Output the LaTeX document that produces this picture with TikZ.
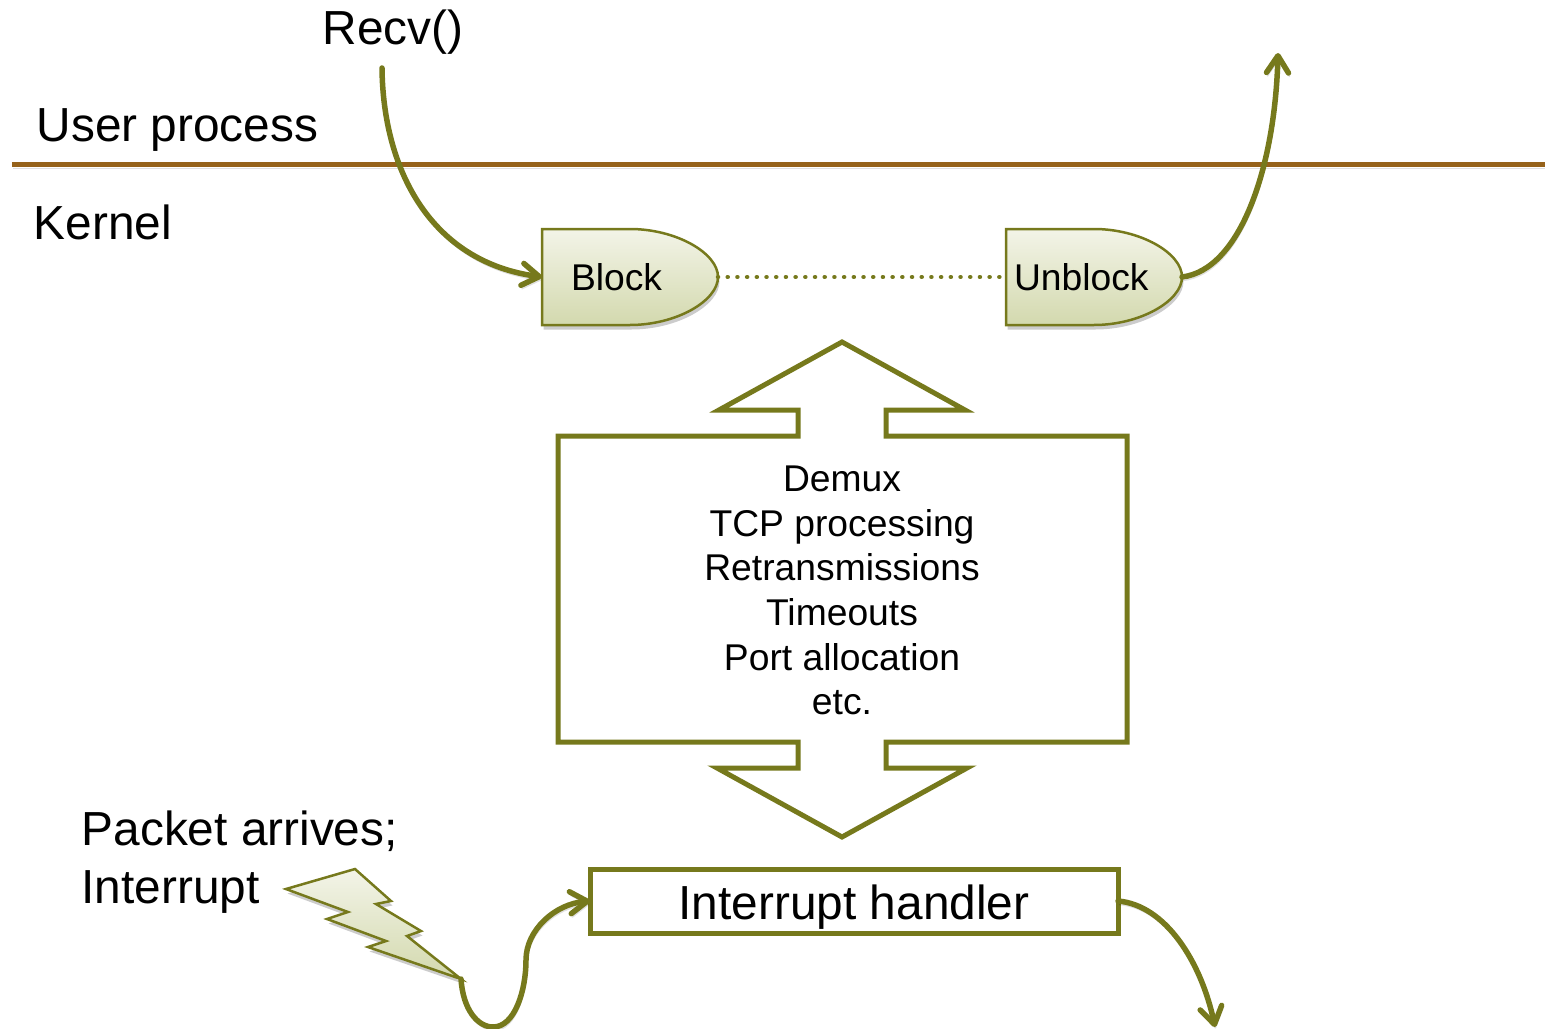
\documentclass[tikz,border=0pt]{standalone}
\usepackage{fontspec}
\setmainfont{Liberation Sans}
\usetikzlibrary{
  arrows.meta, positioning, shadows, backgrounds
}
\definecolor{olivedark}{HTML}{76791C}
\definecolor{brownline}{HTML}{96621A}
\definecolor{shadetop}{HTML}{F3F4E8}
\definecolor{shadebottom}{HTML}{D3D9AE}
\tikzset{
  softshadow/.style={drop shadow={shadow xshift=.015cm,shadow yshift=-.045cm,fill=black,opacity=.2}},
  lineshadow/.style={preaction={draw=black,opacity=.12,transform canvas={shift={(.01cm,-.035cm)}}}},
  bigtext/.style={font=\fontsize{13.6}{16.5}\selectfont,inner sep=0pt,anchor=base west},
  midtext/.style={font=\fontsize{10.6}{12.7}\selectfont},
  flowline/.style={draw=olivedark,line width=.055cm,line cap=round,lineshadow,
    -{Straight Barb[length=.17cm,width=.22cm,round,line width=.055cm]}},
  gatenode/.style={midtext,minimum height=.96cm,text width=1.76cm,align=left,inner sep=0pt,outer sep=0pt},
  gateshape/.style={draw=olivedark,line width=.025cm,top color=shadetop,bottom color=shadebottom,softshadow},
  blockline/.style={draw=olivedark,line width=.05cm,fill=white,miter limit=10}
}
\newcommand{\gateoutline}[1]{
  \path[gateshape] (#1.south west) -- (#1.north west) -- ++(.88,0)
    .. controls +(.46,0) and +(0,.24) .. (#1.east)
    .. controls +(0,-.24) and +(.46,0) .. ++(-.88,-.48) -- cycle;
}

\begin{document}
\begin{tikzpicture}
      \useasboundingbox (0,0) rectangle (15.45,-10.28);
      \draw[draw=brownline,line width=.05cm,lineshadow] (.12,-1.65) -- (15.45,-1.65); %kernel boundary

      \node[bigtext] (recv) at (3.22,-.45) {Recv()};
      \node[bigtext] (user) at (.36,-1.42) {User process};
      \node[bigtext] (kernel) at (.33,-2.39) {Kernel};
      \node[bigtext,align=left,anchor=north west] (packet) at (.81,-8.10) {Packet arrives;\\Interrupt};

      \node[gatenode] (block) at (6.30,-2.77) {\hspace*{.29cm}Block};
      \node[gatenode] (unblock) at (10.94,-2.77) {\hspace*{.08cm}Unblock};
      \begin{scope}[on background layer]
        \gateoutline{block}
        \gateoutline{unblock}
      \end{scope}
      \draw[draw=olivedark,line width=.045cm,line cap=round,dash pattern=on .01pt off 2.75pt]
        (block.east) -- (unblock.west);

      \draw[blockline] (8.42,-3.42) -- (9.65,-4.10) -- (8.86,-4.10) -- (8.86,-4.36)
        -- (11.27,-4.36) -- (11.27,-7.42) -- (8.86,-7.42) -- (8.86,-7.68) -- (9.67,-7.68)
        -- (8.42,-8.37) -- (7.17,-7.68) -- (7.98,-7.68) -- (7.98,-7.42) -- (5.58,-7.42)
        -- (5.58,-4.36) -- (7.98,-4.36) -- (7.98,-4.10) -- (7.19,-4.10) -- cycle;
      \node[midtext,align=center,inner sep=0pt] (tasks) at (8.42,-5.905)
        {Demux\\TCP processing\\Retransmissions\\Timeouts\\Port allocation\\etc.};

      \node[draw=olivedark,line width=.05cm,fill=white,font=\fontsize{13.6}{16.5}\selectfont,
        minimum width=5.28cm,minimum height=.64cm,inner sep=0pt,outer sep=0pt,text depth=.06cm,
        text height=.42cm]
        (handler) at (8.54,-9.01) {Interrupt handler};

      \coordinate (strike) at (4.61,-9.79);
      \draw[gateshape] (2.86,-8.89) -- (3.55,-8.69) -- (3.91,-9.01) -- (3.76,-9.04) -- (4.21,-9.31)
        -- (4.07,-9.36) -- (strike) -- (3.68,-9.47) -- (3.86,-9.41) -- (3.27,-9.19) -- (3.48,-9.12) -- cycle;

      \coordinate (recvstart) at (3.82,-.68);
      \coordinate (unblockend) at (12.78,-.53);
      \coordinate (handlerend) at (12.15,-10.27);
      \draw[flowline] (recvstart) .. controls +(.01,-1.02) and +(-1.11,.15) .. (block.west);
      \draw[flowline] (unblock.east) .. controls +(.58,.07) and +(-.03,-1.15) .. (unblockend);
      \draw[flowline] (strike) .. controls +(.02,-.31) and +(-.15,0) .. (4.93,-10.27)
        .. controls +(.22,0) and +(0,-.30) .. (5.26,-9.60)
        .. controls +(0,.30) and +(-.35,-.03) .. (handler.west);
      \draw[flowline] (handler.east) .. controls +(.47,-.04) and +(-.14,.66) .. (handlerend);
\end{tikzpicture}
\end{document}
